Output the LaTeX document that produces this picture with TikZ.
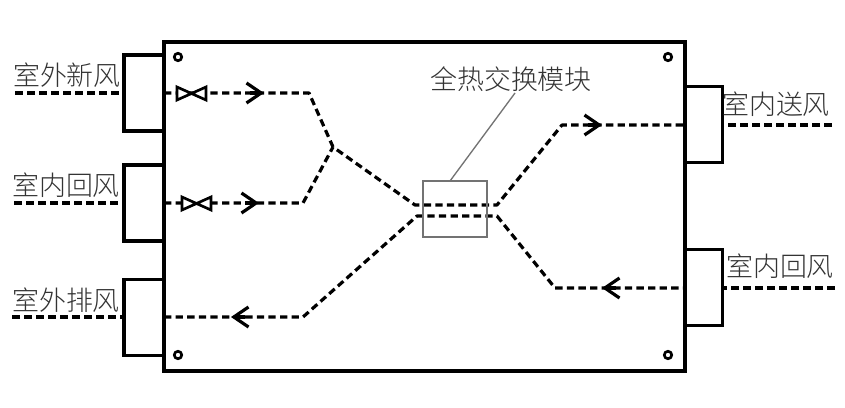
\documentclass[tikz,border=0pt]{standalone}
\usepackage{fontspec}
\setmainfont{Noto Sans CJK SC}[UprightFont=* Light]
\usetikzlibrary{arrows.meta}
\tikzset{
  wall/.style={draw=black,line width=2.3pt,fill=white,inner sep=0pt},
  portl/.style={wall,minimum width=30pt,minimum height=57pt},
  portr/.style={wall,minimum width=28pt,minimum height=57pt},
  duct/.style={draw=black,line width=2.8pt,dash pattern=on 6pt off 3pt},
  air/.style={draw=black,line width=2.4pt,dash pattern=on 5.5pt off 3.2pt,line join=round},
  barb/.style={draw=black,line width=2.4pt,-{Straight Barb[length=11pt,width=15pt,line width=2.4pt]}},
  valve/.style={draw=black,line width=2pt,fill=white,line join=miter},
  hole/.style={draw=black,line width=2pt,fill=white},
  tag/.style={font=\fontsize{20.2pt}{21pt}\selectfont,text=black!80,inner sep=0pt}
}
\begin{document}
\begin{tikzpicture}[x=0.75pt,y=-0.75pt]
    \useasboundingbox (0,0) rectangle (845,407);

    \coordinate (V1) at (309,93);
    \coordinate (V2) at (303,203);
    \coordinate (V3) at (333,147);
    \coordinate (V4) at (415,205);
    \coordinate (V5) at (497,205);
    \coordinate (V6) at (562,125);
    \coordinate (V7) at (303,317);
    \coordinate (V8) at (417,216);
    \coordinate (V9) at (497,216);
    \coordinate (V10) at (555,288);

    % outer ducts
    \coordinate (D1) at (15,93);
    \coordinate (D2) at (14,203);
    \coordinate (D3) at (12,317);
    \coordinate (D4) at (832,125);
    \coordinate (D5) at (835,288);

    \draw[duct] (D1) -- (124,93);
    \draw[duct] (D2) -- (124,203);
    \draw[duct] (D3) -- (124,317);
    \draw[duct] (D4) -- (722,125);
    \draw[duct] (D5) -- (722,288);

    \node[portl] (P1) at (144,93) {};
    \node[portl] (P2) at (144,203) {};
    \node[portl] (P3) at (144,317.5) {};
    \node[portr] (P4) at (703.5,124.5) {};
    \node[portr] (P5) at (703.5,287.5) {};
    \node[wall,minimum width=390.75pt,minimum height=246.75pt] (Box) at (424.5,206.5) {};

    \coordinate (A1) at (164,93);
    \coordinate (A2) at (164,203);
    \coordinate (A3) at (164,317);
    \coordinate (A4) at (685,125);
    \coordinate (A5) at (685,288);

    \draw[air] (A1) -- (V1) -- (V3) -- (V4) -- (V5) -- (V6) -- (A4);
    \draw[air] (A2) -- (V2) -- (V3);
    \draw[air] (A3) -- (V7) -- (V8) -- (V9) -- (V10) -- (A5);

    % arrow heads
    \coordinate (T1) at (264,93);
    \coordinate (T2) at (259,203);
    \coordinate (T3) at (602,125);
    \coordinate (T4) at (231,317);
    \coordinate (T5) at (602,288);
    \draw[barb] (250,93) -- (T1);
    \draw[barb] (245,203) -- (T2);
    \draw[barb] (588,125) -- (T3);
    \draw[barb] (245,317) -- (T4);
    \draw[barb] (616,288) -- (T5);

    % valves
    \draw[valve] (177,87) -- (206,100) -- (206,87) -- (177,100) -- cycle;
    \draw[valve] (182,197) -- (211,210) -- (211,197) -- (182,210) -- cycle;

    \draw[hole] (178,57) circle (2.8pt);
    \draw[hole] (668,57) circle (2.8pt);
    \draw[hole] (178,355) circle (2.8pt);
    \draw[hole] (668,355) circle (2.8pt);

    \node[draw=black!55,line width=1pt,minimum width=48pt,minimum height=42pt,inner sep=0pt] (HX) at (455,209) {};
    \coordinate (L1) at (450,181);
    \coordinate (L2) at (515,93);
    \draw[black!55,line width=1pt] (L1) -- (L2);

    \node[tag] (T_xf) at (67,75) {室外新风};
    \node[tag] (T_hf) at (66,185) {室内回风};
    \node[tag] (T_pf) at (66,300) {室外排风};
    \node[tag] (T_qr) at (511,79) {全热交换模块};
    \node[tag] (T_sf) at (776,104) {室内送风};
    \node[tag] (T_hr) at (780,266) {室内回风};
\end{tikzpicture}
\end{document}
